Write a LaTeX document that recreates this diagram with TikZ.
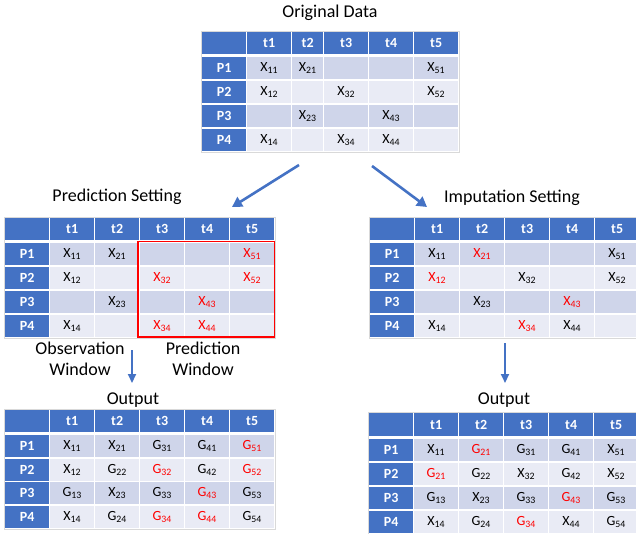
\documentclass[tikz,border=0pt]{standalone}
\usepackage{fontspec}
\setmainfont{Carlito}
\usetikzlibrary{matrix,arrows.meta}

\definecolor{hdrblue}{HTML}{4472C4}
\definecolor{rowdark}{HTML}{CFD5EA}
\definecolor{rowlight}{HTML}{E9EBF5}
\definecolor{framegray}{HTML}{D9D9D9}
\definecolor{missred}{HTML}{FF0000}

\newcommand{\cellv}[2]{#1\textsubscript{#2}}

\tikzset{
  title/.style={font=\fontsize{18}{21}\selectfont, align=center, anchor=base},
  datatab/.style={matrix of nodes, nodes in empty cells, inner sep=0pt,
    anchor=north west, column sep=1pt, row sep=2pt,
    nodes={minimum width=44pt, minimum height=22pt, inner sep=0pt, anchor=center,
      font=\fontsize{14}{14}\selectfont},
    row 1/.style={nodes={fill=hdrblue, text=white,
      font=\fontsize{14}{14}\selectfont\bfseries}},
    row 2/.style={nodes={fill=rowdark}},
    row 3/.style={nodes={fill=rowlight}},
    row 4/.style={nodes={fill=rowdark}},
    row 5/.style={nodes={fill=rowlight}}},
  lbl/.style={fill=hdrblue, text=white, font=\fontsize{14}{14}\selectfont\bfseries},
  miss/.style={text=missred},
  frame/.style={draw=framegray, line width=0.8pt},
  flow/.style={draw=hdrblue, line width=2.6pt, -{Triangle[length=10pt,width=11pt]}},
  drop/.style={draw=hdrblue, line width=2pt, -{Triangle[length=9pt,width=8pt]}},
}

\begin{document}
\begin{tikzpicture}[x=1pt,y=-1pt]
\useasboundingbox (0,0) rectangle (636,533);

% original data
\node[title] (origtitle) at (330,17) {Original Data};
\matrix[datatab, column 3/.style={nodes={minimum width=31pt}}] (orig) at (202,32) {
  |[lbl]| & t1 & t2 & t3 & t4 & t5 \\[1pt]
  |[lbl]| P1 & \cellv{X}{11} & \cellv{X}{21} & & & \cellv{X}{51} \\
  |[lbl]| P2 & \cellv{X}{12} & & \cellv{X}{32} & & \cellv{X}{52} \\
  |[lbl]| P3 & & \cellv{X}{23} & & \cellv{X}{43} & \\
  |[lbl]| P4 & \cellv{X}{14} & & \cellv{X}{34} & \cellv{X}{44} & \\
};
\draw[frame] ([shift={(-1,-1)}]orig.north west) rectangle ([shift={(1,1)}]orig.south east);

\coordinate (splitL) at (299,165);
\coordinate (splitR) at (372,166);
\coordinate (predin) at (232,207);
\coordinate (impin) at (427,207);
\draw[flow] (splitL) -- (predin);
\draw[flow] (splitR) -- (impin);

% prediction setting
\node[title] (predtitle) at (117,201) {Prediction Setting};
\matrix[datatab] (pred) at (5,218) {
  |[lbl]| & t1 & t2 & t3 & t4 & t5 \\[1pt]
  |[lbl]| P1 & \cellv{X}{11} & \cellv{X}{21} & & & |[miss]| \cellv{X}{51} \\
  |[lbl]| P2 & \cellv{X}{12} & & |[miss]| \cellv{X}{32} & & |[miss]| \cellv{X}{52} \\
  |[lbl]| P3 & & \cellv{X}{23} & & |[miss]| \cellv{X}{43} & \\
  |[lbl]| P4 & \cellv{X}{14} & & |[miss]| \cellv{X}{34} & |[miss]| \cellv{X}{44} & \\
};
\draw[frame] ([shift={(-1,-1)}]pred.north west) rectangle ([shift={(1,1)}]pred.south east);
\draw[missred, line width=1.6pt] ([shift={(-2,-1.5)}]pred-2-4.north west) rectangle ([shift={(0,-0.5)}]pred-5-6.south east);

\node[title] (obswin) at (80,375) {Observation\\Window};
\node[title] (predwin) at (203,375) {Prediction\\Window};

% imputation setting
\node[title] (imptitle) at (512,202) {Imputation Setting};
\matrix[datatab] (imp) at (370,218) {
  |[lbl]| & t1 & t2 & t3 & t4 & t5 \\[1pt]
  |[lbl]| P1 & \cellv{X}{11} & |[miss]| \cellv{X}{21} & & & \cellv{X}{51} \\
  |[lbl]| P2 & |[miss]| \cellv{X}{12} & & \cellv{X}{32} & & \cellv{X}{52} \\
  |[lbl]| P3 & & \cellv{X}{23} & & |[miss]| \cellv{X}{43} & \\
  |[lbl]| P4 & \cellv{X}{14} & & |[miss]| \cellv{X}{34} & \cellv{X}{44} & \\
};
\draw[frame] ([shift={(-1,-1)}]imp.north west) rectangle ([shift={(1,1)}]imp.south east);

\coordinate (predout) at (132,350);
\coordinate (predoutend) at (132,383);
\coordinate (impout) at (505,343);
\coordinate (impoutend) at (505,383);
\draw[drop] (predout) -- (predoutend);
\draw[drop] (impout) -- (impoutend);

% outputs
\node[title] (outtitleL) at (133,404) {Output};
\matrix[datatab, row sep=1.5pt] (outL) at (5,410) {
  |[lbl]| & t1 & t2 & t3 & t4 & t5 \\[1.5pt]
  |[lbl]| P1 & \cellv{X}{11} & \cellv{X}{21} & \cellv{G}{31} & \cellv{G}{41} & |[miss]| \cellv{G}{51} \\
  |[lbl]| P2 & \cellv{X}{12} & \cellv{G}{22} & |[miss]| \cellv{G}{32} & \cellv{G}{42} & |[miss]| \cellv{G}{52} \\
  |[lbl]| P3 & \cellv{G}{13} & \cellv{X}{23} & \cellv{G}{33} & |[miss]| \cellv{G}{43} & \cellv{G}{53} \\
  |[lbl]| P4 & \cellv{X}{14} & \cellv{G}{24} & |[miss]| \cellv{G}{34} & |[miss]| \cellv{G}{44} & \cellv{G}{54} \\
};
\draw[frame] ([shift={(-1,-1)}]outL.north west) rectangle ([shift={(1,1)}]outL.south east);

\node[title] (outtitleR) at (504,404) {Output};
\matrix[datatab, row 1/.style={nodes={minimum height=23pt, fill=hdrblue, text=white,
    font=\fontsize{14}{14}\selectfont\bfseries}}] (outR) at (369,413) {
  |[lbl]| & t1 & t2 & t3 & t4 & t5 \\[1pt]
  |[lbl]| P1 & \cellv{X}{11} & |[miss]| \cellv{G}{21} & \cellv{G}{31} & \cellv{G}{41} & \cellv{X}{51} \\
  |[lbl]| P2 & |[miss]| \cellv{G}{21} & \cellv{G}{22} & \cellv{X}{32} & \cellv{G}{42} & \cellv{X}{52} \\
  |[lbl]| P3 & \cellv{G}{13} & \cellv{X}{23} & \cellv{G}{33} & |[miss]| \cellv{G}{43} & \cellv{G}{53} \\
  |[lbl]| P4 & \cellv{X}{14} & \cellv{G}{24} & |[miss]| \cellv{G}{34} & \cellv{X}{44} & \cellv{G}{54} \\
};
\draw[frame] ([shift={(-1,-1)}]outR.north west) rectangle ([shift={(1,1)}]outR.south east);
\end{tikzpicture}
\end{document}
